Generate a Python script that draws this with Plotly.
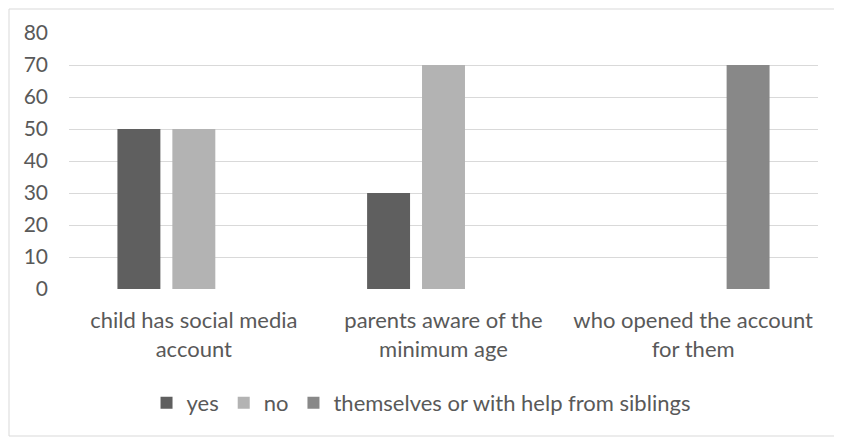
import plotly.graph_objects as go

categories = ["child has social media<br>account", "parents aware of the<br>minimum age", "who opened the account<br>for them"]
yes_vals = [50, 30, 0]
no_vals = [50, 70, 0]
themselves_vals = [0, 0, 70]
tick_vals = [0, 10, 20, 30, 40, 50, 60, 70, 80]

font_family = "Lato, Carlito, Liberation Sans, sans-serif"
text_color = "#595959"

fig = go.Figure()
fig.add_trace(go.Bar(name="yes", x=categories, y=yes_vals, marker=dict(color="#5f5f5f", line=dict(width=0))))
fig.add_trace(go.Bar(name="no", x=categories, y=no_vals, marker=dict(color="#b3b3b3", line=dict(width=0))))
fig.add_trace(go.Bar(name="themselves or with help from siblings", x=categories, y=themselves_vals, marker=dict(color="#888888", line=dict(width=0))))

# page body has an 8px offset, so margins are shifted accordingly
fig.update_layout(
    width=842, height=441,
    margin=dict(l=61, r=32, t=25, b=160),
    paper_bgcolor="white", plot_bgcolor="white",
    barmode="group", bargap=0.34, bargroupgap=0.218,
    font=dict(family=font_family, size=22, color=text_color),
    showlegend=True,
    legend=dict(orientation="h", x=0.47, xanchor="center", y=-0.445, yanchor="middle",
                font=dict(size=22, color=text_color), itemwidth=30, traceorder="normal"),
    xaxis=dict(showgrid=False, zeroline=False, showline=False, ticks="", ticklabelstandoff=16,
               tickfont=dict(size=22, color=text_color)),
    yaxis=dict(range=[0, 80], tickvals=tick_vals, showgrid=True, gridcolor="#d9d9d9", gridwidth=1.3,
               zeroline=False, showline=False, ticks="", ticklabelstandoff=20,
               tickfont=dict(size=21, color=text_color)),
    shapes=[dict(type="rect", xref="paper", yref="paper",
                 x0=(9 - 69) / 749, x1=(837 - 69) / 749, y0=(289 - 436) / 256, y1=(289 - 9) / 256,
                 line=dict(color="#d9d9d9", width=1), fillcolor="rgba(0,0,0,0)", layer="below")],
)

fig.write_html("out.html")
